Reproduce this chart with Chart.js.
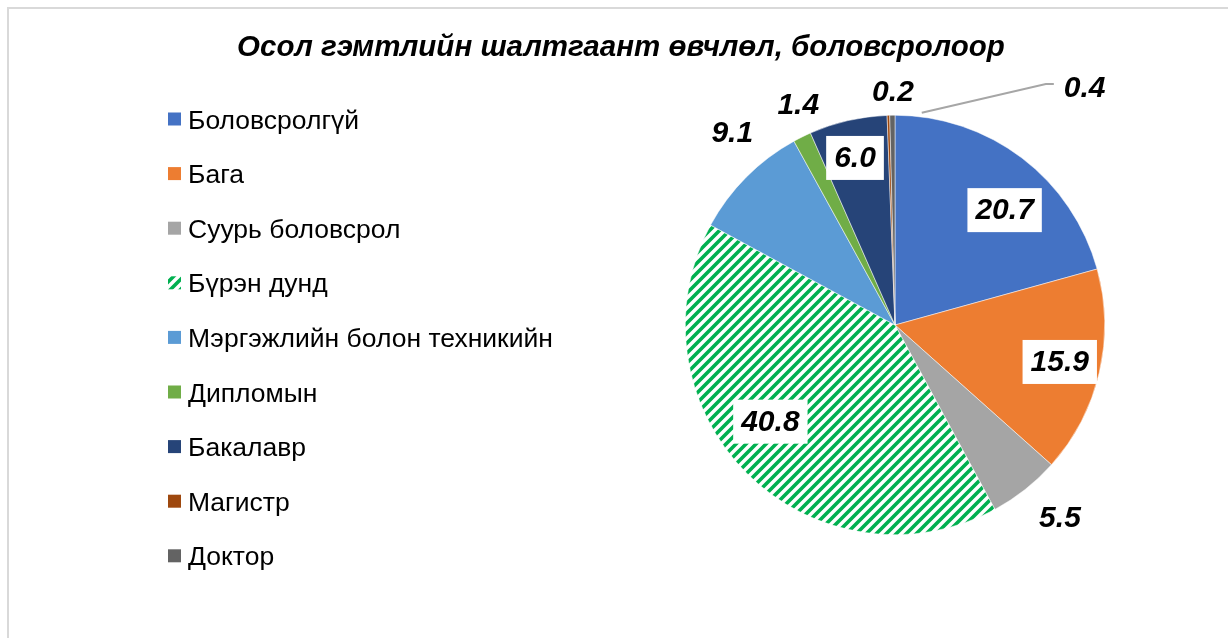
<!DOCTYPE html>
<html>
<head>
<meta charset="utf-8">
<script src="https://cdn.jsdelivr.net/npm/chart.js@4.4.1/dist/chart.umd.min.js"></script>
<style>
  html, body { margin: 0; padding: 0; background: #fff; }
  #wrap { position: relative; width: 1228px; height: 638px; overflow: hidden; }
  canvas { position: absolute; left: 0; top: 0; }
</style>
</head>
<body>
<div id="wrap"><canvas id="c" width="1228" height="638"></canvas></div>
<script>
// ---- data ----
const chartTitle = "Осол гэмтлийн шалтгаант өвчлөл, боловсролоор";
const categories = ["Боловсролгүй", "Бага", "Суурь боловсрол", "Бүрэн дунд",
  "Мэргэжлийн болон техникийн", "Дипломын", "Бакалавр", "Магистр", "Доктор"];
const values = [20.7, 15.9, 5.5, 40.8, 9.1, 1.4, 6.0, 0.2, 0.4];
const valueLabels = ["20.7", "15.9", "5.5", "40.8", "9.1", "1.4", "6.0", "0.2", "0.4"];

// ---- style ----
const sliceColors = ["#4472C4", "#ED7D31", "#A5A5A5", null, "#5B9BD5", "#70AD47", "#264478", "#9E480E", "#636363"];
const HATCH_GREEN = "#00B050";

function makeHatch() {
  const s = 10;
  const t = document.createElement("canvas");
  t.width = s; t.height = s;
  const g = t.getContext("2d");
  g.fillStyle = "#fff"; g.fillRect(0, 0, s, s);
  g.strokeStyle = HATCH_GREEN; g.lineWidth = 3.6; g.lineCap = "square";
  g.beginPath();
  g.moveTo(-2, s + 2); g.lineTo(s + 2, -2);
  g.moveTo(-3, 3); g.lineTo(3, -3);
  g.moveTo(s - 3, s + 3); g.lineTo(s + 3, s - 3);
  g.stroke();
  return g.createPattern(t, "repeat");
}
const ctx0 = document.getElementById("c").getContext("2d");
const hatch = makeHatch();
const fills = sliceColors.map(c => c === null ? hatch : c);

// label placement: radial fraction of radius, angle tweak (deg), boxed?
const labelPlace = [
  { f: 0.757, da: 6.4, box: true },
  { f: 0.805, da: -0.5, box: true },
  { f: 1.21, da: -2.2, box: false },
  { f: 0.752, da: 7.2, box: true },
  { f: 1.20, da: 4.9, box: false },
  { f: 1.148, da: 2.6, box: false },
  { f: 0.819, da: -0.5, box: true },
  { f: 1.11, da: 1.3, box: false },
  { f: 1.447, da: 39.4, box: false, leader: { da: 7.9, rf: 1.02 } }
];

const framePlugin = {
  id: "frame",
  beforeDraw(chart) {
    const c = chart.ctx;
    c.save();
    c.fillStyle = "#fff";
    c.fillRect(0, 0, chart.width, chart.height);
    c.strokeStyle = "#D9D9D9"; c.lineWidth = 2;
    c.beginPath();
    c.moveTo(8, chart.height); c.lineTo(8, 8); c.lineTo(chart.width, 8);
    c.stroke();
    // title
    c.fillStyle = "#000";
    c.font = "italic bold 29.5px 'Liberation Sans', Arial, sans-serif";
    c.textAlign = "center"; c.textBaseline = "alphabetic";
    c.fillText(chartTitle, 621, 56);
    // legend
    c.font = "26.5px 'Liberation Sans', Arial, sans-serif";
    c.textAlign = "left";
    const labels = chart.data.labels;
    const bg = chart.data.datasets[0].backgroundColor;
    labels.forEach((lab, i) => {
      const base = 128.5 + i * 54.6;
      c.fillStyle = bg[i];
      c.fillRect(168, base - 16, 13, 13);
      c.fillStyle = "#000";
      c.fillText(lab, 188, base);
    });
    c.restore();
  }
};

const labelPlugin = {
  id: "vlabels",
  afterDatasetsDraw(chart) {
    const c = chart.ctx;
    const meta = chart.getDatasetMeta(0);
    c.save();
    c.font = "italic bold 30px 'Liberation Sans', Arial, sans-serif";
    c.textAlign = "center"; c.textBaseline = "middle";
    meta.data.forEach((arc, i) => {
      const p = arc.getProps(["x", "y", "startAngle", "endAngle", "outerRadius"], true);
      const lp = labelPlace[i];
      const mid = (p.startAngle + p.endAngle) / 2 + lp.da * Math.PI / 180;
      const tx = p.x + Math.cos(mid) * p.outerRadius * lp.f;
      const ty = p.y + Math.sin(mid) * p.outerRadius * lp.f;
      const txt = valueLabels[i];
      if (lp.box) {
        const w = c.measureText(txt).width + 16;
        const h = 44;
        c.fillStyle = "#fff";
        c.fillRect(tx - w / 2, ty - h / 2, w, h);
      }
      if (lp.leader) {
        const a0 = (p.startAngle + p.endAngle) / 2 + lp.leader.da * Math.PI / 180;
        const sx = p.x + Math.cos(a0) * p.outerRadius * lp.leader.rf;
        const sy = p.y + Math.sin(a0) * p.outerRadius * lp.leader.rf;
        const w = c.measureText(txt).width;
        c.strokeStyle = "#A6A6A6"; c.lineWidth = 2;
        c.beginPath();
        c.moveTo(sx, sy);
        c.lineTo(tx - w / 2 - 18, ty - 4);
        c.lineTo(tx - w / 2 - 10, ty - 4);
        c.stroke();
      }
      c.fillStyle = "#000";
      c.fillText(txt, tx, ty + 1);
    });
    c.restore();
  }
};

new Chart(ctx0, {
  type: "pie",
  data: {
    labels: categories,
    datasets: [{
      data: values,
      backgroundColor: fills,
      borderColor: "#fff",
      borderWidth: 0.5
    }]
  },
  options: {
    responsive: false,
    animation: false,
    events: [],
    layout: { padding: { left: 685, right: 123, top: 115, bottom: 103 } },
    plugins: { legend: { display: false }, title: { display: false }, tooltip: { enabled: false } }
  },
  plugins: [framePlugin, labelPlugin]
});
</script>
</body>
</html>
